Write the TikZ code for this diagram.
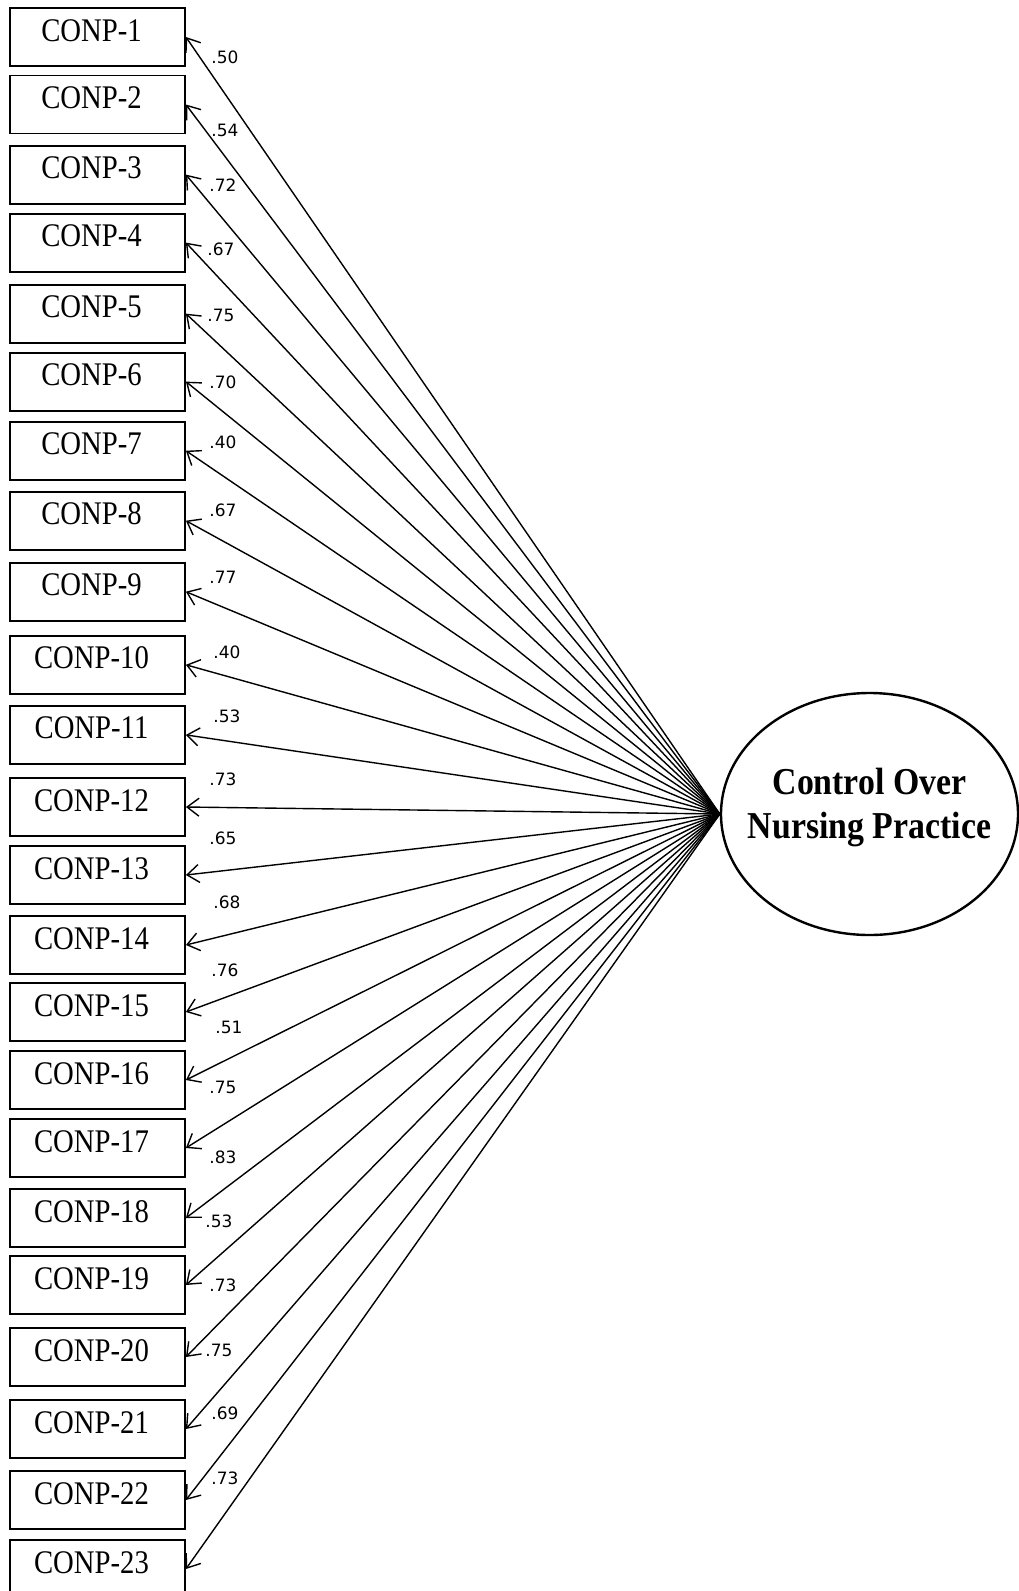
\documentclass[tikz,border=0pt]{standalone}
\usepackage{fontspec}
\setmainfont{Liberation Serif}
\newfontfamily\coeffont{DejaVu Sans}
\usetikzlibrary{shapes.geometric,arrows.meta}

\begin{document}
\begin{tikzpicture}[
    x=0.5pt, y=-0.5pt,
    item/.style={draw, line width=0.9pt, minimum width=87.5pt, minimum height=29pt,
      inner sep=0pt, font=\fontsize{16.5}{18}\selectfont, text height=11pt, text depth=7pt},
    factor/.style={draw, ellipse, line width=1.2pt, minimum width=148.5pt,
      minimum height=121pt, inner sep=0pt},
    factortext/.style={align=center, font=\fontsize{19}{22}\selectfont\bfseries},
    coef/.style={font=\coeffont\fontsize{8.5}{10}\selectfont},
    loading/.style={line width=0.7pt, -{Straight Barb[length=6pt,width=9pt]}},
  ]
  \useasboundingbox (0,0) rectangle (1018,1591);

  % Latent factor
  \node[factor] (cnp) at (869.5,814) {};
  \node[factortext] (cnptext) at ([yshift=3.5pt]cnp.center)
    {\scalebox{0.89}[1]{Control Over}\\\scalebox{0.89}[1]{Nursing Practice}};

  % Items and loadings
  \foreach \i/\y/\lx/\ly/\v in {1/37/225/57/.50, 2/104.5/225/130/.54,
      3/174.6/223/185/.72, 4/242.6/221/249/.67, 5/313.6/221/315/.75,
      6/381.6/223/382/.70, 7/450.7/223/442/.40, 8/520.7/223/510/.67,
      9/591.7/223/577/.77, 10/664.8/227/652/.40, 11/734.9/227/716/.53,
      12/807/223/779/.73, 13/875/223/838/.65, 14/945/227/902/.68,
      15/1012/225/970/.76, 16/1080/229/1027/.51, 17/1148/223/1087/.75,
      18/1218/223/1157/.83, 19/1285/219/1221/.53, 20/1357/223/1285/.73,
      21/1429/219/1350/.75, 22/1500/225/1413/.69, 23/1569/225/1478/.73} {
    \node[item] (c\i) at (97.5,\y) {\scalebox{0.87}[1]{CONP-\i}\kern6pt};
    \draw[loading] (cnp.west) -- (c\i.east);
    \node[coef] at (\lx,\ly) {\v};
  }
\end{tikzpicture}
\end{document}
